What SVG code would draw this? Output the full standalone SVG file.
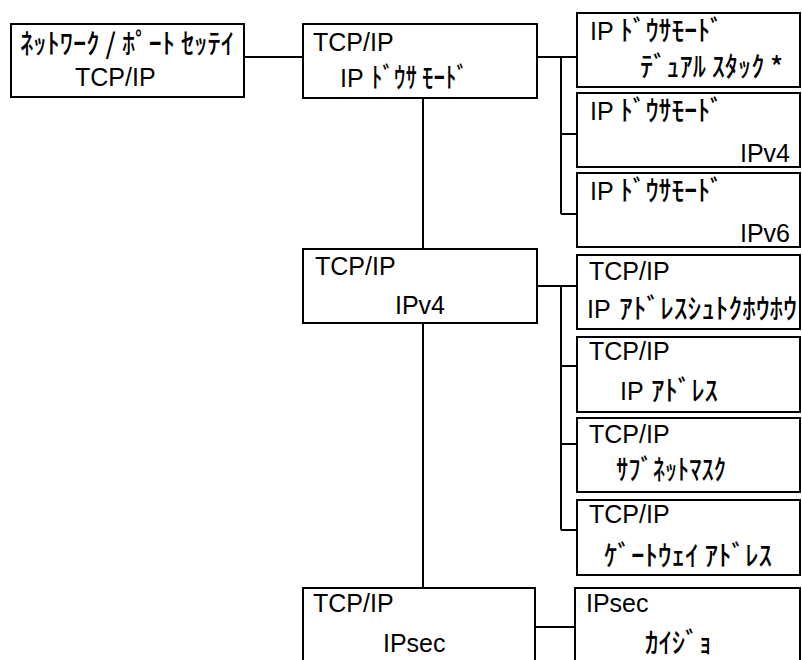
<svg xmlns="http://www.w3.org/2000/svg" width="802" height="660" viewBox="0 0 802 660">
<style>
.box{fill:#fff;stroke:#000;stroke-width:2}
.ln{fill:none;stroke:#000;stroke-width:2}
text{font-family:"Liberation Sans","Noto Sans CJK JP",sans-serif;fill:#000;font-size:25px}
.j{font-size:28px;font-family:"Noto Sans CJK JP","Liberation Sans",sans-serif;font-weight:500}
</style>
<rect width="802" height="660" fill="#fff"/>
<g id="connectors">
<path class="ln" d="M244 57H303"/>
<path class="ln" d="M537 57H577M561 57V214M561 134H577M561 214H577"/>
<path class="ln" d="M423 98V249M423 323V588"/>
<path class="ln" d="M537 286H577M561 286V530M561 366H577M561 444H577M561 530H577"/>
<path class="ln" d="M535 627H575"/>
</g>
<g id="n1"><rect class="box" x="11" y="24" width="233" height="73"/>
<text class="j" x="20" y="54" textLength="214" lengthAdjust="spacingAndGlyphs">ﾈｯﾄﾜｰｸ / ﾎﾟｰﾄ ｾｯﾃｲ</text>
<text x="75" y="86" font-size="23">TCP/IP</text></g>
<g id="n2"><rect class="box" x="303" y="24" width="234" height="74"/>
<text x="313" y="51" font-size="27">TCP/IP</text>
<text x="340" y="87">IP</text>
<text class="j" x="371" y="88" textLength="97" lengthAdjust="spacingAndGlyphs">ﾄﾞｳｻ ﾓｰﾄﾞ</text></g>
<g id="n3"><rect class="box" x="577" y="13" width="223" height="74"/>
<text x="590" y="40">IP</text>
<text class="j" x="620" y="41" textLength="103" lengthAdjust="spacingAndGlyphs">ﾄﾞｳｻﾓｰﾄﾞ</text>
<text class="j" x="640" y="77" textLength="143" lengthAdjust="spacingAndGlyphs">ﾃﾞｭｱﾙ ｽﾀｯｸ *</text></g>
<g id="n4"><rect class="box" x="577" y="93" width="223" height="74"/>
<text x="590" y="120">IP</text>
<text class="j" x="620" y="121" textLength="103" lengthAdjust="spacingAndGlyphs">ﾄﾞｳｻﾓｰﾄﾞ</text>
<text x="790" y="162" text-anchor="end">IPv4</text></g>
<g id="n5"><rect class="box" x="577" y="173" width="223" height="74"/>
<text x="590" y="200">IP</text>
<text class="j" x="620" y="201" textLength="103" lengthAdjust="spacingAndGlyphs">ﾄﾞｳｻﾓｰﾄﾞ</text>
<text x="790" y="242" text-anchor="end">IPv6</text></g>
<g id="n6"><rect class="box" x="303" y="249" width="234" height="74"/>
<text x="315" y="275">TCP/IP</text>
<text x="395" y="314">IPv4</text></g>
<g id="n7"><rect class="box" x="577" y="255" width="223" height="74"/>
<text x="589" y="280">TCP/IP</text>
<text x="587" y="318">IP</text>
<text class="j" x="619" y="319" textLength="178" lengthAdjust="spacingAndGlyphs">ｱﾄﾞﾚｽｼｭﾄｸﾎｳﾎｳ</text></g>
<g id="n8"><rect class="box" x="577" y="337" width="223" height="75"/>
<text x="589" y="360">TCP/IP</text>
<text x="620" y="400">IP</text>
<text class="j" x="651" y="401" textLength="67" lengthAdjust="spacingAndGlyphs">ｱﾄﾞﾚｽ</text></g>
<g id="n9"><rect class="box" x="577" y="418" width="223" height="74"/>
<text x="589" y="443">TCP/IP</text>
<text class="j" x="616" y="480" textLength="110" lengthAdjust="spacingAndGlyphs">ｻﾌﾞﾈｯﾄﾏｽｸ</text></g>
<g id="n10"><rect class="box" x="577" y="500" width="223" height="75"/>
<text x="589" y="523">TCP/IP</text>
<text class="j" x="604" y="566" textLength="168" lengthAdjust="spacingAndGlyphs">ｹﾞｰﾄｳｪｲ ｱﾄﾞﾚｽ</text></g>
<g id="n11"><rect class="box" x="303" y="588" width="232" height="80"/>
<text x="313" y="612">TCP/IP</text>
<text x="383" y="652">IPsec</text></g>
<g id="n12"><rect class="box" x="575" y="588" width="225" height="80"/>
<text x="586" y="612">IPsec</text>
<text class="j" x="645" y="653" textLength="67" lengthAdjust="spacingAndGlyphs">ｶｲｼﾞｮ</text></g>
</svg>
